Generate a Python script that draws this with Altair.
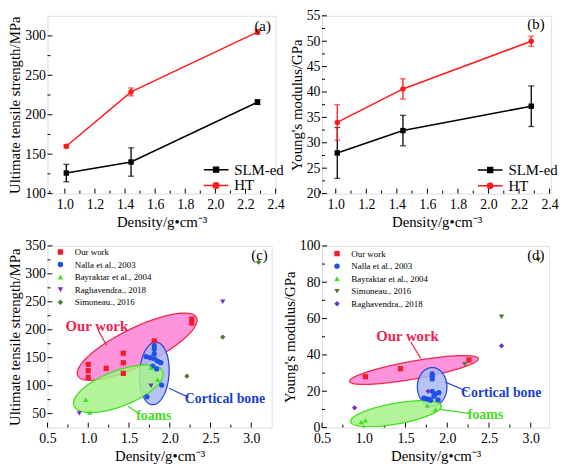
import altair as alt
import numpy as np
import pandas as pd

FONT = "Liberation Serif, Times New Roman, serif"
XTITLE = "Density/g\u2022cm\u207b\u00b3"

# ---------------- (a) / (b) data ----------------
density = [1.01, 1.44, 2.28]
uts_slm = [126, 140, 216]
uts_slm_err = [11, 18, 3]
uts_ht = [160, 229, 305]
uts_ht_err = [2, 5, 3]
mod_slm = [28.0, 32.4, 37.2]
mod_slm_err = [5.0, 3.0, 4.0]
mod_ht = [34.0, 40.6, 50.0]
mod_ht_err = [3.5, 2.0, 1.0]
series_ab = ["SLM-ed", "HT"]

# ---------------- (c) data ----------------
src_c = ["Our work", "Nalla et al., 2003", "Bayraktar et al., 2004",
         "Raghavendra., 2018", "Simoneau., 2016"]
c_our_x = [1.0, 1.0, 1.0, 1.22, 1.43, 1.43, 1.43, 1.81, 2.27, 2.27]
c_our_y = [138, 127, 115, 131, 158, 141, 122, 180, 219, 212]
c_nalla_x = [1.71, 1.76, 1.81, 1.81, 1.81, 1.81, 1.79, 1.85, 1.89, 1.84, 1.90, 1.72]
c_nalla_y = [152, 150, 171, 165, 157, 148, 135, 144, 141, 130, 101, 80]
c_bay_x = [0.97, 1.02, 1.77, 1.85]
c_bay_y = [75, 52, 132, 111]
c_rag_x = [0.89, 1.77, 2.65]
c_rag_y = [50, 100, 250]
c_sim_x = [2.21, 2.65, 3.09]
c_sim_y = [117, 187, 321]

# ---------------- (d) data ----------------
src_d = ["Our work", "Nalla et al., 2003", "Bayraktar et al., 2004",
         "Simoneau., 2016", "Raghavendra., 2018"]
d_our_x = [1.02, 1.44, 2.26]
d_our_y = [28.0, 32.4, 37.2]
d_nalla_x = [1.82, 1.82, 1.82, 1.82, 1.86, 1.90, 1.84, 1.72, 1.75, 1.78, 1.80, 1.89]
d_nalla_y = [29.5, 28.2, 26.8, 20.0, 18.5, 19.2, 17.3, 16.2, 15.8, 15.6, 15.0, 15.3]
d_bay_x = [0.97, 1.02, 1.76, 1.86]
d_bay_y = [3.1, 4.0, 12.2, 10.0]
d_sim_x = [2.21, 2.65, 3.09]
d_sim_y = [34.8, 61.0, 92.3]
d_rag_x = [0.89, 1.77, 2.65]
d_rag_y = [10.9, 20.0, 45.0]

# ellipse groups: center, semi-axis vector 1, semi-axis vector 2 (data units)
ell_c = {
    "our": ((1.600, 169.7), (0.728, 52.0), (0.1008, -30.2)),
    "cort": ((1.810, 121.9), (0.024, 56.0), (0.181, -1.6)),
    "foam": ((1.369, 94.5), (0.544, 30.5), (0.078, -29.7)),
}
ell_d = {
    "our": ((1.601, 31.7), (0.770, 6.28), (0.0184, -4.84)),
    "cort": ((1.819, 22.4), (0.0, 10.66), (0.177, 0.0)),
    "foam": ((1.386, 7.65), (0.543, 4.43), (0.0215, -5.65)),
}
lab_c = {"our": ("Our work", 1.105, 207.0), "cort": ("Cortical bone", 2.677, 76.0),
         "foam": ("foams", 1.804, 45.4)}
con_c = {"our": (1.124, 198.5, 1.226, 172.0), "cort": (1.991, 95.4, 2.233, 79.0),
         "foam": (1.487, 63.1, 1.629, 49.4)}
lab_d = {"our": ("Our work", 1.524, 50.1), "cort": ("Cortical bone", 2.646, 19.1),
         "foam": ("foams", 2.457, 7.1)}
con_d = {"our": (1.563, 47.2, 1.681, 38.1), "cort": (1.976, 25.0, 2.244, 19.9),
         "foam": (1.917, 10.0, 2.272, 7.65)}
panel_lab = {"a": (2.314, 313.0), "b": (2.311, 53.3), "c": (3.10, 334.0), "d": (3.06, 95.0)}

# ---------------- styles ----------------
RED = "#ff1a1a"
C_COL = {"Our work": "#f21c2a", "Nalla et al., 2003": "#1f4fe6",
         "Bayraktar et al., 2004": "#3fe01f", "Raghavendra., 2018": "#7030c8",
         "Simoneau., 2016": "#4f7a28"}
C_SHAPE_C = {"Our work": "square", "Nalla et al., 2003": "circle",
             "Bayraktar et al., 2004": "triangle-up", "Raghavendra., 2018": "triangle-down",
             "Simoneau., 2016": "diamond"}
C_SHAPE_D = {"Our work": "square", "Nalla et al., 2003": "circle",
             "Bayraktar et al., 2004": "triangle-up", "Simoneau., 2016": "triangle-down",
             "Raghavendra., 2018": "diamond"}
ELL_STYLE = {"our": ("#ff80d6", "#f0284a", "#ee2250"),
             "cort": ("#a9b9f2", "#2a4ad8", "#1a3fd0"),
             "foam": ("#a6f28a", "#44dd22", "#44dd22")}


def axis_x(vals, fmt):
    return alt.Axis(values=vals, format=fmt, title=XTITLE, ticks=False, domain=False, grid=False,
                    labelFont=FONT, labelFontSize=14, labelColor="black", labelPadding=4,
                    labelOverlap=False, labelFlush=False, titleFont=FONT, titleFontSize=15,
                    titleFontWeight="normal", titleColor="black", titlePadding=3)


def axis_y(vals, fmt, title):
    return alt.Axis(values=vals, format=fmt, title=title, ticks=False, domain=False, grid=False,
                    labelFont=FONT, labelFontSize=14, labelColor="black", labelPadding=2,
                    labelOverlap=False, labelFlush=False, titleFont=FONT, titleFontSize=15,
                    titleFontWeight="normal", titleColor="black", titlePadding=2)


def tick_layers(X, Y, W, H, xmaj, xmin, ymaj, ymin):
    out = []
    for vals, L in ((xmaj, 5), (xmin, 3)):
        out.append(alt.Chart(pd.DataFrame({"x": vals})).mark_rule(color="black", strokeWidth=1)
                   .encode(x=X, y=alt.value(H), y2=alt.value(H - L)))
    for vals, L in ((ymaj, 5), (ymin, 3)):
        out.append(alt.Chart(pd.DataFrame({"y": vals})).mark_rule(color="black", strokeWidth=1)
                   .encode(y=Y, x=alt.value(0), x2=alt.value(L)))
    return out


def line_panel(key, yvals_slm, yerr_slm, yvals_ht, yerr_ht, xdom, ydom, ymaj, ymin,
               yfmt, ytitle, W, H, legX, legY):
    xmaj = [1.0, 1.2, 1.4, 1.6, 1.8, 2.0, 2.2, 2.4]
    xmin = [0.9, 1.1, 1.3, 1.5, 1.7, 1.9, 2.1, 2.3]
    X = alt.X("x:Q", scale=alt.Scale(domain=xdom, nice=False, zero=False), axis=axis_x(xmaj, ".1f"))
    Y = alt.Y("y:Q", scale=alt.Scale(domain=ydom, nice=False, zero=False),
              axis=axis_y(ymaj, yfmt, ytitle))
    layers = tick_layers(X, Y, W, H, xmaj, xmin, ymaj, ymin)
    for name, vals, errs, color, shape in (("SLM-ed", yvals_slm, yerr_slm, "black", "square"),
                                            ("HT", yvals_ht, yerr_ht, RED, "circle")):
        df = pd.DataFrame({"x": density, "y": vals})
        dfe = pd.DataFrame({"x": density, "y": [v - e for v, e in zip(vals, errs)],
                            "y2": [v + e for v, e in zip(vals, errs)]})
        dfc = pd.DataFrame({"x": density * 2,
                            "y": [v - e for v, e in zip(vals, errs)] + [v + e for v, e in zip(vals, errs)]})
        layers.append(alt.Chart(df).mark_line(color=color, strokeWidth=1.5).encode(x=X, y=Y))
        layers.append(alt.Chart(dfe).mark_rule(color=color, strokeWidth=1.3)
                      .encode(x=X, y=Y, y2=alt.Y2("y2:Q")))
        layers.append(alt.Chart(dfc).mark_tick(color=color, orient="horizontal", size=6, thickness=1.3)
                      .encode(x=X, y=Y))
        layers.append(alt.Chart(df).mark_point(filled=True, shape=shape, size=30, color=color, opacity=1)
                      .encode(x=X, y=Y))
    paths = ["M-2.5,0L2.5,0M-0.5,-0.5L0.5,-0.5L0.5,0.5L-0.5,0.5Z",
             "M-2.5,0L2.5,0M-0.55,0A0.55,0.55,0,1,0,0.55,0A0.55,0.55,0,1,0,-0.55,0Z"]
    leg = alt.Legend(title=None, orient="none", legendX=legX, legendY=legY, labelFont=FONT,
                     labelFontSize=15, labelColor="black", symbolSize=100, symbolStrokeWidth=1.5,
                     labelOffset=11, rowPadding=0, padding=0)
    ldf = pd.DataFrame({"x": density, "y": yvals_slm, "s": series_ab + ["HT"]})
    layers.append(alt.Chart(ldf).mark_point(filled=True, opacity=1).encode(
        x=X, y=Y,
        fill=alt.Fill("s:N", scale=alt.Scale(domain=series_ab, range=["black", RED]), legend=leg),
        stroke=alt.Stroke("s:N", scale=alt.Scale(domain=series_ab, range=["black", RED]), legend=leg),
        shape=alt.Shape("s:N", scale=alt.Scale(domain=series_ab, range=paths), legend=leg),
    ).transform_filter("false"))
    px, py = panel_lab[key]
    layers.append(alt.Chart(pd.DataFrame({"x": [px], "y": [py], "t": ["(" + key + ")"]}))
                  .mark_text(font=FONT, fontSize=15, color="black").encode(x=X, y=Y, text="t:N"))
    return alt.layer(*layers).properties(width=W, height=H)


def ellipse_frames(center, v1, v2, n=90):
    cx, cy = center
    ax, ay = v1
    bx, by = v2
    R = float(np.hypot(ax, bx))
    phi = float(np.arctan2(bx, ax))
    s = np.linspace(0, np.pi, n)
    t1 = phi + s
    t2 = phi - s
    area = pd.DataFrame({"x": cx + R * np.cos(s),
                         "y": cy + ay * np.cos(t1) + by * np.sin(t1),
                         "y2": cy + ay * np.cos(t2) + by * np.sin(t2)})
    t = np.linspace(0, 2 * np.pi, 2 * n + 1)
    outline = pd.DataFrame({"x": cx + ax * np.cos(t) + bx * np.sin(t),
                            "y": cy + ay * np.cos(t) + by * np.sin(t),
                            "o": np.arange(len(t))})
    return area, outline


def scatter_panel(key, groups, order, shapes, ells, labs, cons, xdom, ydom, ymaj, ymin, yfmt,
                  ytitle, W, H, legX, legY):
    xmaj = [0.5, 1.0, 1.5, 2.0, 2.5, 3.0]
    xmin = [0.75, 1.25, 1.75, 2.25, 2.75]
    X = alt.X("x:Q", scale=alt.Scale(domain=xdom, nice=False, zero=False), axis=axis_x(xmaj, ".1f"))
    Y = alt.Y("y:Q", scale=alt.Scale(domain=ydom, nice=False, zero=False),
              axis=axis_y(ymaj, yfmt, ytitle))
    layers = tick_layers(X, Y, W, H, xmaj, xmin, ymaj, ymin)
    for k in ("our", "cort", "foam"):
        fill, border, tcol = ELL_STYLE[k]
        area, outline = ellipse_frames(*ells[k])
        layers.append(alt.Chart(area).mark_area(color=fill, opacity=0.85, clip=True)
                      .encode(x=X, y=Y, y2=alt.Y2("y2:Q")))
        layers.append(alt.Chart(outline).mark_line(color=border, strokeWidth=1.3, clip=True)
                      .encode(x=X, y=Y, order=alt.Order("o:Q")))
    for k in ("our", "cort", "foam"):
        fill, border, tcol = ELL_STYLE[k]
        x1, y1, x2, y2 = cons[k]
        layers.append(alt.Chart(pd.DataFrame({"x": [x1], "y": [y1], "x2": [x2], "y2": [y2]}))
                      .mark_rule(color=border, strokeWidth=1.2)
                      .encode(x=X, y=Y, x2=alt.X2("x2:Q"), y2=alt.Y2("y2:Q")))
        t, tx, ty = labs[k]
        layers.append(alt.Chart(pd.DataFrame({"x": [tx], "y": [ty], "t": [t]}))
                      .mark_text(font=FONT, fontSize=15 if k == "our" else 14, fontWeight="bold",
                                 color=tcol)
                      .encode(x=X, y=Y, text="t:N"))
    rows = []
    for name, (xs, ys) in groups.items():
        for xv, yv in zip(xs, ys):
            rows.append({"x": xv, "y": yv, "src": name})
    df = pd.DataFrame(rows)
    leg = alt.Legend(title=None, orient="none", legendX=legX, legendY=legY, labelFont=FONT,
                     labelFontSize=9, labelColor="black", symbolSize=30, labelOffset=10,
                     rowPadding=2.7, padding=0, symbolStrokeWidth=0)
    layers.append(alt.Chart(df).mark_point(filled=True, size=28, opacity=1).encode(
        x=X, y=Y,
        color=alt.Color("src:N", scale=alt.Scale(domain=order, range=[C_COL[s] for s in order]),
                        legend=leg),
        shape=alt.Shape("src:N", scale=alt.Scale(domain=order, range=[shapes[s] for s in order]),
                        legend=leg),
    ))
    px, py = panel_lab[key]
    layers.append(alt.Chart(pd.DataFrame({"x": [px], "y": [py], "t": ["(" + key + ")"]}))
                  .mark_text(font=FONT, fontSize=15, color="black").encode(x=X, y=Y, text="t:N"))
    return alt.layer(*layers).properties(width=W, height=H)


pa = line_panel("a", uts_slm, uts_slm_err, uts_ht, uts_ht_err, [0.885, 2.4], [100, 325.5],
                [100, 150, 200, 250, 300], [125, 175, 225, 275], "d",
                "Ultimate tensile strength/MPa", 231, 180, 163.2, 148.3)
pb = line_panel("b", mod_slm, mod_slm_err, mod_ht, mod_ht_err, [0.91, 2.41], [20, 55],
                [20, 25, 30, 35, 40, 45, 50, 55], [22.5, 27.5, 32.5, 37.5, 42.5, 47.5, 52.5], "d",
                "Young's modulus/GPa", 232, 180, 162.8, 148.7)

groups_c = {"Our work": (c_our_x, c_our_y), "Nalla et al., 2003": (c_nalla_x, c_nalla_y),
            "Bayraktar et al., 2004": (c_bay_x, c_bay_y), "Raghavendra., 2018": (c_rag_x, c_rag_y),
            "Simoneau., 2016": (c_sim_x, c_sim_y)}
groups_d = {"Our work": (d_our_x, d_our_y), "Nalla et al., 2003": (d_nalla_x, d_nalla_y),
            "Bayraktar et al., 2004": (d_bay_x, d_bay_y), "Simoneau., 2016": (d_sim_x, d_sim_y),
            "Raghavendra., 2018": (d_rag_x, d_rag_y)}

pc = scatter_panel("c", groups_c, src_c, C_SHAPE_C, ell_c, lab_c, con_c, [0.5, 3.25], [25, 350],
                   [50, 100, 150, 200, 250, 300, 350], [75, 125, 175, 225, 275, 325], "d",
                   "Ultimate tensile strength/MPa", 227, 184, 8.6, 1.7)
pd_ = scatter_panel("d", groups_d, src_d, C_SHAPE_D, ell_d, lab_d, con_d, [0.5, 3.22], [0, 100],
                    [0, 20, 40, 60, 80, 100], [10, 30, 50, 70, 90], "d",
                    "Young's modulus/GPa", 230, 184, 10.7, 3.3)

IND = dict(color="independent", shape="independent", fill="independent", stroke="independent")
chart = alt.concat(pa, pb, pc, pd_, columns=2, bounds="flush",
                   spacing={"row": 53, "column": 47}).resolve_scale(**IND).resolve_legend(**IND).properties(
    padding={"left": -1, "top": -3, "right": 0, "bottom": 0}
).configure_view(stroke="black", strokeWidth=1).configure(background="white")

chart.save("out.html", embed_options={"renderer": "svg", "actions": False})
